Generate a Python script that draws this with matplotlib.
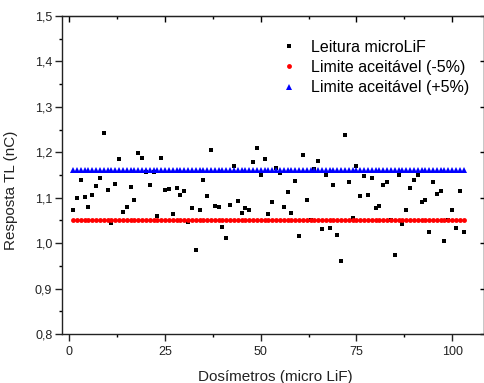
import matplotlib
matplotlib.use("Agg")
import matplotlib.pyplot as plt
import matplotlib.ticker as mtick

plt.rcParams["font.family"] = ["Liberation Sans", "DejaVu Sans"]

# *******************
# Data
# *******************
dosimetros = list(range(1, 104))
leitura = [
    1.074, 1.099, 1.138, 1.101, 1.080, 1.107, 1.126, 1.143, 1.243, 1.118,
    1.044, 1.130, 1.185, 1.068, 1.080, 1.124, 1.095, 1.199, 1.187, 1.156,
    1.129, 1.157, 1.060, 1.188, 1.116, 1.120, 1.065, 1.121, 1.107, 1.115,
    1.047, 1.077, 0.986, 1.073, 1.140, 1.104, 1.206, 1.082, 1.080, 1.035,
    1.012, 1.085, 1.170, 1.093, 1.066, 1.078, 1.073, 1.179, 1.209, 1.151,
    1.186, 1.064, 1.090, 1.165, 1.154, 1.080, 1.113, 1.066, 1.136, 1.015,
    1.195, 1.095, 1.052, 1.164, 1.181, 1.031, 1.149, 1.034, 1.129, 1.017,
    0.961, 1.238, 1.135, 1.056, 1.169, 1.104, 1.147, 1.105, 1.144, 1.077,
    1.082, 1.129, 1.134, 1.052, 0.975, 1.151, 1.043, 1.073, 1.122, 1.140,
    1.149, 1.090, 1.096, 1.024, 1.135, 1.109, 1.115, 1.004, 1.052, 1.074,
    1.034, 1.115, 1.025,
]
limite_inf = [1.05] * len(dosimetros)
limite_sup = [1.16] * len(dosimetros)

x_ticks = [0, 25, 50, 75, 100]
y_ticks = [0.8, 0.9, 1.0, 1.1, 1.2, 1.3, 1.4, 1.5]


def virgula(v, pos):
    """decimal comma on the y axis"""
    return ("%.1f" % v).replace(".", ",")


fig = plt.figure(figsize=(4.85, 3.83), dpi=100)
ax = fig.add_axes([0.128, 0.128, 0.869, 0.830])

ax.plot(dosimetros, leitura, "s", color="black", ms=2.9, mew=0,
        label="Leitura microLiF")
ax.plot(dosimetros, limite_inf, "o", color="#ff0000", ms=3.5, mew=0,
        label="Limite aceitável (-5%)")
ax.plot(dosimetros, limite_sup, "^", color="#0000ff", ms=3.7, mew=0,
        label="Limite aceitável (+5%)")

ax.set_xlim(-1.9, 108.2)
ax.set_ylim(0.8, 1.5)
ax.set_xticks(x_ticks)
ax.set_yticks(y_ticks)
ax.xaxis.set_minor_locator(mtick.MultipleLocator(12.5))
ax.yaxis.set_minor_locator(mtick.MultipleLocator(0.05))
ax.yaxis.set_major_formatter(mtick.FuncFormatter(virgula))

ax.tick_params(which="major", direction="out", length=5, width=1,
               labelsize=9, colors="#222222")
ax.tick_params(which="minor", direction="out", length=2.5, width=1)
ax.tick_params(axis="x", pad=4)
ax.tick_params(axis="y", pad=2)
for s in ax.spines.values():
    s.set_linewidth(1.0)
    s.set_color("#222222")

# Origin style mirrored ticks pointing inward
top = ax.secondary_xaxis("top")
top.set_xticks(x_ticks)
top.xaxis.set_minor_locator(mtick.MultipleLocator(12.5))
top.tick_params(which="major", direction="in", length=4, width=1, labeltop=False)
top.tick_params(which="minor", direction="in", length=2, width=1)
right = ax.secondary_yaxis("right")
right.set_yticks(y_ticks)
right.tick_params(direction="in", length=3, width=1, labelright=False)

ax.set_xlabel("Dosímetros (micro LiF)", fontsize=11, color="#222222")
ax.set_ylabel("Resposta TL (nC)", fontsize=11, color="#222222")
ax.xaxis.set_label_coords(0.507, -0.112)
ax.yaxis.set_label_coords(-0.104, 0.453)

ax.legend(loc="upper left", bbox_to_anchor=(0.505, 0.945), frameon=False,
          fontsize=11.5, handlelength=1.0, handletextpad=0.85,
          labelspacing=0.32, markerscale=1.0, borderaxespad=0)

fig.savefig("out.png", dpi=100)
